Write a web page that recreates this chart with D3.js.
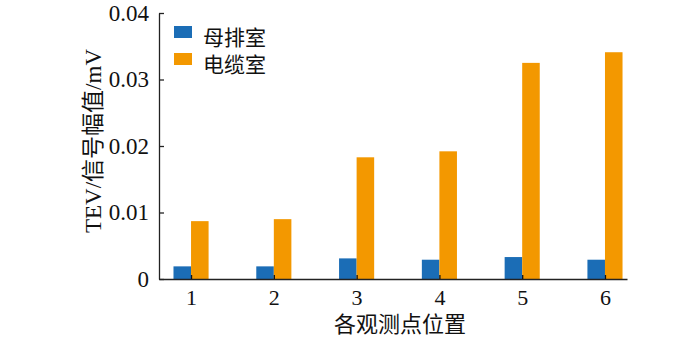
<!DOCTYPE html>
<html><head><meta charset="utf-8">
<script src="https://cdn.jsdelivr.net/npm/d3@7"></script>
<style>body{margin:0;background:#fff}svg{display:block}</style>
</head><body>
<svg id="c" width="700" height="339"></svg>
<script>
const categories = [1, 2, 3, 4, 5, 6];
const seriesNames = ["母排室", "电缆室"];
const busbar = [0.0019, 0.0019, 0.0031, 0.0029, 0.0033, 0.0029];
const cable = [0.0087, 0.0090, 0.0183, 0.0192, 0.0325, 0.0341];
const yTicks = [0, 0.01, 0.02, 0.03, 0.04];
const yTickLabels = ["0", "0.01", "0.02", "0.03", "0.04"];
const colors = ["#1b6db6", "#f39800"];

const svg = d3.select("#c");
const serif = "'Liberation Serif','Times New Roman',serif";
const cjk = "'Noto Sans CJK SC','Liberation Serif',serif";
const mixed = "'Liberation Serif','Noto Sans CJK SC',serif";

const x = d3.scaleLinear().domain([0.613, 6.266]).range([159, 627]);
const y = d3.scaleLinear().domain([0, 0.04]).range([279, 13]);
const barW = 0.212;

const series = [busbar, cable];
series.forEach((vals, si) => {
  svg.append("g").selectAll("rect").data(vals).join("rect")
    .attr("x", (d, i) => si === 0 ? x(categories[i] - barW) : x(categories[i]))
    .attr("width", x(barW) - x(0))
    .attr("y", d => y(d))
    .attr("height", d => y(0) - y(d))
    .attr("fill", colors[si]);
});

// Y axis
const yAxis = d3.axisLeft(y).tickValues(yTicks).tickFormat((d, i) => yTickLabels[i])
  .tickSizeInner(-5).tickSizeOuter(0).tickPadding(10);
const gy = svg.append("g").attr("transform", `translate(${x.range()[0]},0)`).call(yAxis);
gy.select(".domain").attr("stroke", "#222").attr("stroke-width", 1.3);
gy.selectAll(".tick line").attr("stroke", "#222").attr("stroke-width", 1.3);
gy.selectAll("text").attr("font-family", serif).attr("font-size", 23).attr("fill", "#111");

// X axis
const xAxis = d3.axisBottom(x).tickValues(categories).tickFormat(d3.format("d"))
  .tickSizeInner(-4).tickSizeOuter(0).tickPadding(10);
const gx = svg.append("g").attr("transform", `translate(0,${y(0)})`).call(xAxis);
gx.select(".domain").attr("stroke", "#222").attr("stroke-width", 1.6);
gx.selectAll(".tick line").attr("stroke", "#111").attr("stroke-width", 1.3);
gx.selectAll("text").attr("font-family", serif).attr("font-size", 22).attr("fill", "#111");

// Axis titles
svg.append("text").attr("x", 400).attr("y", 332).attr("text-anchor", "middle")
  .attr("font-family", cjk).attr("font-size", 22).attr("fill", "#111").text("各观测点位置");
svg.append("text").attr("transform", "translate(101,141) rotate(-90)").attr("text-anchor", "middle")
  .attr("font-family", mixed).attr("font-size", 23).attr("fill", "#111").text("TEV/信号幅值/mV");

// Legend
const leg = svg.append("g");
seriesNames.forEach((n, i) => {
  leg.append("rect").attr("x", 174).attr("y", 26 + i * 27).attr("width", 18).attr("height", 12).attr("fill", colors[i]);
  leg.append("text").attr("x", 203).attr("y", 40 + i * 27).attr("font-family", cjk)
    .attr("font-size", 21).attr("fill", "#111").attr("dominant-baseline", "middle").attr("dy", "-0.05em")
    .text(n);
});
</script>
</body></html>
